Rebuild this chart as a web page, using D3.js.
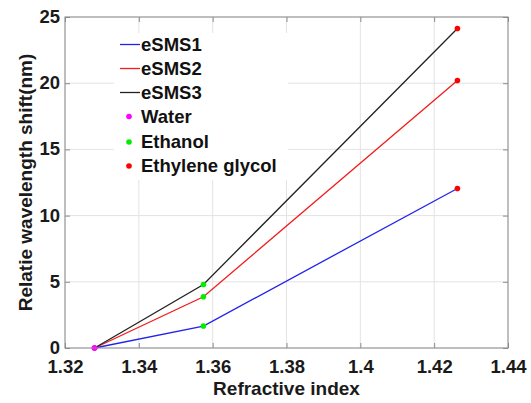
<!DOCTYPE html>
<html>
<head>
<meta charset="utf-8">
<script src="https://cdn.jsdelivr.net/npm/d3@7"></script>
<style>
  html, body { margin: 0; padding: 0; background: #fff; }
  svg { display: block; font-family: "Liberation Sans", Arial, Helvetica, sans-serif; }
</style>
</head>
<body>
<svg id="chart" width="531" height="403"></svg>
<script>
// Refractive index of each liquid
const liquids = ["Water", "Ethanol", "Ethylene glycol"];
const refractiveIndex = [1.328, 1.3575, 1.4263];

// Wavelength shift (nm) of each sensor for the three liquids
const eSMS1 = [0, 1.66, 12.05];
const eSMS2 = [0, 3.87, 20.2];
const eSMS3 = [0, 4.8, 24.13];

const seriesNames = ["eSMS1", "eSMS2", "eSMS3"];
const xTicks = [1.32, 1.34, 1.36, 1.38, 1.4, 1.42, 1.44];
const xTickLabels = ["1.32", "1.34", "1.36", "1.38", "1.4", "1.42", "1.44"];
const yTicks = [0, 5, 10, 15, 20, 25];

const lineColors = ["#2222ee", "#f21c1c", "#222222"];
const markerColors = ["#ff00ff", "#00ee00", "#ff0000"];

const svg = d3.select("#chart");
const m = { left: 65, right: 508, top: 17, bottom: 348 };

const x = d3.scaleLinear().domain([1.32, 1.44]).range([m.left, m.right]);
const y = d3.scaleLinear().domain([0, 25]).range([m.bottom, m.top]);

// grid
const grid = svg.append("g").attr("stroke", "#e3e3e3").attr("stroke-width", 1);
xTicks.forEach(t => grid.append("line")
  .attr("x1", x(t)).attr("x2", x(t)).attr("y1", m.top).attr("y2", m.bottom));
yTicks.forEach(t => grid.append("line")
  .attr("x1", m.left).attr("x2", m.right).attr("y1", y(t)).attr("y2", y(t)));

// data lines
const series = [eSMS1, eSMS2, eSMS3];
const line = d3.line().x((d, i) => x(refractiveIndex[i])).y(d => y(d));
series.forEach((s, k) => {
  svg.append("path").datum(s)
    .attr("d", line)
    .attr("fill", "none")
    .attr("stroke", lineColors[k])
    .attr("stroke-width", 1.3);
});

// markers: one colour per liquid
series.forEach(s => {
  s.forEach((v, i) => {
    svg.append("circle")
      .attr("cx", x(refractiveIndex[i])).attr("cy", y(v))
      .attr("r", 2.8).attr("fill", markerColors[i]);
  });
});

// axes box with inward ticks on all sides
const tickLen = 5;
const axisColor = "#8c8c8c";
const ax = svg.append("g");
ax.append("rect")
  .attr("x", m.left).attr("y", m.top)
  .attr("width", m.right - m.left).attr("height", m.bottom - m.top)
  .attr("fill", "none").attr("stroke", axisColor).attr("stroke-width", 1);

const xAxisB = d3.axisBottom(x).tickValues(xTicks).tickSizeInner(-tickLen).tickSizeOuter(0)
  .tickFormat((d, i) => xTickLabels[i]).tickPadding(12);
const xAxisT = d3.axisTop(x).tickValues(xTicks).tickSizeInner(-tickLen).tickSizeOuter(0).tickFormat("");
const yAxisL = d3.axisLeft(y).tickValues(yTicks).tickSizeInner(-tickLen).tickSizeOuter(0).tickPadding(5);
const yAxisR = d3.axisRight(y).tickValues(yTicks).tickSizeInner(-tickLen).tickSizeOuter(0).tickFormat("");

function styleAxis(g) {
  g.select(".domain").remove();
  g.selectAll(".tick line").attr("stroke", axisColor);
  g.selectAll(".tick text")
    .attr("fill", "#1a1a1a")
    .attr("font-size", "18.5px")
    .attr("font-weight", "bold")
    .attr("font-family", "'Liberation Sans', Arial, sans-serif");
}
svg.append("g").attr("transform", `translate(0,${m.bottom})`).call(xAxisB).call(styleAxis);
svg.append("g").attr("transform", `translate(0,${m.top})`).call(xAxisT).call(styleAxis);
svg.append("g").attr("transform", `translate(${m.left},0)`).call(yAxisL).call(styleAxis);
svg.append("g").attr("transform", `translate(${m.right},0)`).call(yAxisR).call(styleAxis);

// y tick labels sit a little above their tick, clear of the x labels
svg.selectAll(".tick text").filter(function () {
  return this.parentNode.parentNode.getAttribute("transform") === `translate(${m.left},0)`;
}).attr("dy", "0.3em");

// axis titles
svg.append("text")
  .attr("x", (m.left + m.right) / 2).attr("y", 395)
  .attr("text-anchor", "middle")
  .attr("font-size", "19px").attr("font-weight", "bold").attr("fill", "#1a1a1a")
  .text("Refractive index");
svg.append("text")
  .attr("transform", `translate(32,${(m.top + m.bottom) / 2}) rotate(-90)`)
  .attr("text-anchor", "middle")
  .attr("font-size", "19px").attr("font-weight", "bold").attr("fill", "#1a1a1a")
  .text("Relatie wavelength shift(nm)");

// legend
const legend = svg.append("g");
legend.append("rect")
  .attr("x", 114).attr("y", 33).attr("width", 174).attr("height", 147)
  .attr("fill", "#fff");
const rowY = [44.5, 68.5, 92.5, 116.5, 142, 166];
const labels = seriesNames.concat(liquids);
labels.forEach((name, i) => {
  const yy = rowY[i];
  if (i < 3) {
    legend.append("line")
      .attr("x1", 120).attr("x2", 140).attr("y1", yy).attr("y2", yy)
      .attr("stroke", lineColors[i]).attr("stroke-width", 1.3);
  } else {
    legend.append("circle")
      .attr("cx", 129).attr("cy", yy).attr("r", 2.8)
      .attr("fill", markerColors[i - 3]);
  }
  legend.append("text")
    .attr("x", 141).attr("y", yy).attr("dy", "0.35em")
    .attr("font-size", "18.5px").attr("font-weight", "bold").attr("fill", "#111")
    .text(name);
});
</script>
</body>
</html>
